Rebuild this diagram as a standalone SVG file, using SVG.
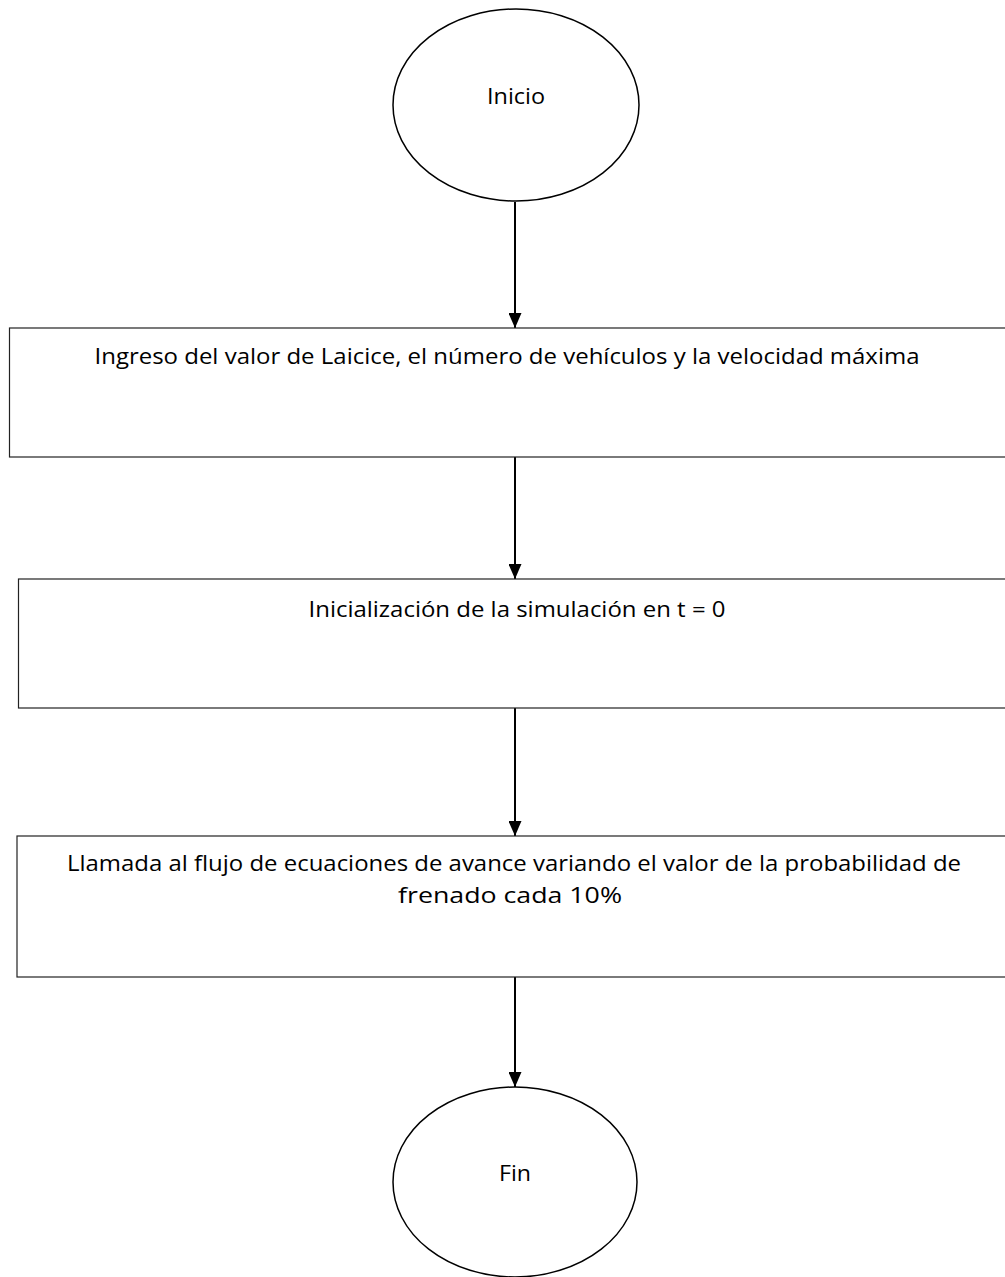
<svg xmlns="http://www.w3.org/2000/svg" width="1005" height="1277" viewBox="0 0 1005 1277">
<style>
.n{fill:#fff;stroke:#000;stroke-width:1.5}
.r{fill:#fff;stroke:#222;stroke-width:1.2}
.t{font-family:"Open Sans","Liberation Sans",sans-serif;font-size:21.5px;fill:#000;text-anchor:middle}
.c{stroke:#000;stroke-width:2;fill:none}
</style>
<defs>
<marker id="h" markerWidth="15" markerHeight="13" refX="15" refY="6.5" orient="auto" markerUnits="userSpaceOnUse" viewBox="0 0 15 13">
<path d="M0,0 L15,6.5 L0,13 Z" fill="#000"/>
</marker>
</defs>
<rect width="1005" height="1277" fill="#fff"/>
<g id="connectors">
<line class="c" x1="515" y1="202" x2="515" y2="328" marker-end="url(#h)"/>
<line class="c" x1="515" y1="457" x2="515" y2="579" marker-end="url(#h)"/>
<line class="c" x1="515" y1="708" x2="515" y2="836" marker-end="url(#h)"/>
<line class="c" x1="515" y1="977" x2="515" y2="1087" marker-end="url(#h)"/>
</g>
<g id="inicio">
<ellipse class="n" cx="516" cy="105" rx="123" ry="96"/>
<text class="t" x="516" y="104" textLength="58" lengthAdjust="spacingAndGlyphs">Inicio</text>
</g>
<g id="ingreso">
<rect class="r" x="9.5" y="328" width="1005" height="129"/>
<text class="t" x="507" y="364" textLength="825" lengthAdjust="spacingAndGlyphs">Ingreso del valor de Laicice, el número de vehículos y la velocidad máxima</text>
</g>
<g id="inicializacion">
<rect class="r" x="18.5" y="579" width="1000" height="129"/>
<text class="t" x="517" y="617" textLength="417" lengthAdjust="spacingAndGlyphs">Inicialización de la simulación en t = 0</text>
</g>
<g id="llamada">
<rect class="r" x="17" y="836" width="1000" height="141"/>
<text class="t" x="514" y="871" textLength="894" lengthAdjust="spacingAndGlyphs">Llamada al flujo de ecuaciones de avance variando el valor de la probabilidad de</text>
<text class="t" x="510" y="903" textLength="224" lengthAdjust="spacingAndGlyphs">frenado cada 10%</text>
</g>
<g id="fin">
<ellipse class="n" cx="515" cy="1182" rx="122" ry="95"/>
<text class="t" x="515" y="1181" textLength="32" lengthAdjust="spacingAndGlyphs">Fin</text>
</g>
</svg>
